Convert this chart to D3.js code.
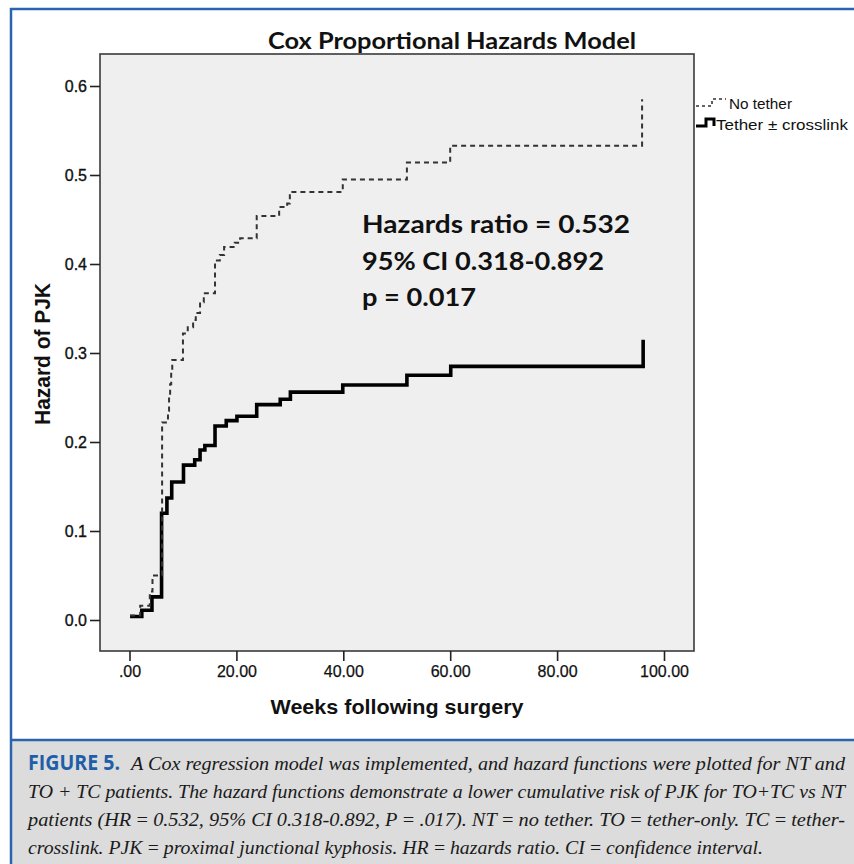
<!DOCTYPE html>
<html>
<head>
<meta charset="utf-8">
<script src="https://cdn.jsdelivr.net/npm/d3@7"></script>
<style>
  html, body { margin: 0; padding: 0; background: #ffffff; }
  svg { display: block; }
</style>
</head>
<body>
<svg id="chart" width="854" height="864"></svg>
<script>
// ---------------- DATA ----------------
const chartTitle = "Cox Proportional Hazards Model";
const xTicks = [0, 20, 40, 60, 80, 100];
const xTickLabels = [".00", "20.00", "40.00", "60.00", "80.00", "100.00"];
const yTicks = [0.0, 0.1, 0.2, 0.3, 0.4, 0.5, 0.6];
const yTickLabels = ["0.0", "0.1", "0.2", "0.3", "0.4", "0.5", "0.6"];
const seriesNames = ["No tether", "Tether \u00b1 crosslink"];

// No tether (dashed)
const weeksNoTether = [0.1, 2.0, 3.8, 4.3, 6.1, 7.2, 7.4, 7.6, 7.8, 8.0, 10.0, 10.9, 11.9, 12.4, 13.2, 13.9, 16.0, 16.9, 17.7, 19.7, 20.7, 23.8, 28.0, 29.5, 30.0, 39.9, 51.9, 60.0, 95.9];
const hazardNoTether = [0.005, 0.016, 0.032, 0.050, 0.222, 0.235, 0.250, 0.265, 0.278, 0.292, 0.322, 0.329, 0.337, 0.345, 0.357, 0.367, 0.404, 0.410, 0.419, 0.424, 0.429, 0.454, 0.464, 0.468, 0.481, 0.495, 0.514, 0.533, 0.585];

// Tether ± crosslink (solid)
const weeksTether = [0.1, 2.3, 4.2, 6.0, 7.0, 7.9, 10.1, 12.2, 13.2, 14.1, 16.0, 18.1, 20.1, 23.8, 28.2, 30.1, 39.9, 51.9, 60.1, 96.1];
const hazardTether = [0.004, 0.011, 0.026, 0.120, 0.137, 0.155, 0.174, 0.180, 0.191, 0.196, 0.218, 0.224, 0.229, 0.242, 0.248, 0.256, 0.264, 0.275, 0.285, 0.315];

const annotationLines = ["Hazards ratio = 0.532", "95% CI 0.318-0.892", "p = 0.017"];
const captionLabel = "FIGURE 5.";
const captionLines = [
  "A Cox regression model was implemented, and hazard functions were plotted for NT and",
  "TO + TC patients. The hazard functions demonstrate a lower cumulative risk of PJK for TO+TC vs NT",
  "patients (HR\u2009=\u20090.532, 95% CI 0.318-0.892, P\u2009=\u2009.017). NT\u2009=\u2009no tether. TO\u2009=\u2009tether-only. TC\u2009=\u2009tether-",
  "crosslink. PJK\u2009=\u2009proximal junctional kyphosis. HR\u2009=\u2009hazards ratio. CI\u2009=\u2009confidence interval."
];

// ---------------- LAYOUT ----------------
const svg = d3.select("#chart");
const panel = { left: 100, right: 694, top: 54, bottom: 651 };

const x = d3.scaleLinear().domain([0, 100]).range([129.5, 664]);
const y = d3.scaleLinear().domain([0, 0.6]).range([620, 86]);

// Blue frame
const blue = "#2b63ad";
svg.append("rect").attr("x", 12).attr("y", 741).attr("width", 842).attr("height", 123).attr("fill", "#dcdcdc");
svg.append("line").attr("x1", 11).attr("x2", 11).attr("y1", 8).attr("y2", 864).attr("stroke", blue).attr("stroke-width", 2.5);
svg.append("line").attr("x1", 10).attr("x2", 854).attr("y1", 9).attr("y2", 9).attr("stroke", blue).attr("stroke-width", 2.5);
svg.append("line").attr("x1", 11).attr("x2", 854).attr("y1", 740).attr("y2", 740).attr("stroke", blue).attr("stroke-width", 2.5);

// Title
svg.append("text")
  .attr("x", 452).attr("y", 49)
  .attr("text-anchor", "middle")
  .attr("font-family", "Lato, 'Open Sans', sans-serif")
  .attr("font-weight", "bold")
  .attr("font-size", 23)
  .attr("fill", "#111")
  .attr("textLength", 368).attr("lengthAdjust", "spacingAndGlyphs")
  .text(chartTitle);

// Panel
svg.append("rect")
  .attr("x", panel.left).attr("y", panel.top)
  .attr("width", panel.right - panel.left).attr("height", panel.bottom - panel.top)
  .attr("fill", "#efefef").attr("stroke", "#3a3a3a").attr("stroke-width", 1.6);

// Axes
const axisFont = "'Liberation Sans', Arial, sans-serif";
const yAxis = svg.append("g").attr("transform", `translate(${panel.left},0)`)
  .call(d3.axisLeft(y).tickValues(yTicks).tickSize(10).tickPadding(3)
    .tickFormat((d, i) => yTickLabels[i]));
yAxis.select(".domain").remove();
yAxis.selectAll(".tick line").attr("stroke", "#222").attr("stroke-width", 1.6);
yAxis.selectAll(".tick text").attr("font-family", axisFont).attr("font-size", 16).attr("fill", "#111")
  .attr("stroke", "#111").attr("stroke-width", 0.35).attr("dy", "0.34em");

const xAxis = svg.append("g").attr("transform", `translate(0,${panel.bottom})`)
  .call(d3.axisBottom(x).tickValues(xTicks).tickSize(10).tickPadding(5)
    .tickFormat((d, i) => xTickLabels[i]));
xAxis.select(".domain").remove();
xAxis.selectAll(".tick line").attr("stroke", "#222").attr("stroke-width", 1.6);
xAxis.selectAll(".tick text").attr("font-family", axisFont).attr("font-size", 16).attr("fill", "#111")
  .attr("stroke", "#111").attr("stroke-width", 0.25);

// Axis titles
svg.append("text")
  .attr("x", 397).attr("y", 714)
  .attr("text-anchor", "middle")
  .attr("font-family", axisFont).attr("font-weight", "bold").attr("font-size", 21)
  .attr("fill", "#111")
  .attr("textLength", 253).attr("lengthAdjust", "spacingAndGlyphs")
  .text("Weeks following surgery");

svg.append("text")
  .attr("transform", "translate(50,354) rotate(-90)")
  .attr("text-anchor", "middle")
  .attr("font-family", axisFont).attr("font-weight", "bold").attr("font-size", 21.5)
  .attr("fill", "#111")
  .attr("textLength", 142).attr("lengthAdjust", "spacingAndGlyphs")
  .text("Hazard of PJK");

// Curves
const line = d3.line().x(d => x(d[0])).y(d => y(d[1])).curve(d3.curveStepAfter);
const noTetherData = weeksNoTether.map((w, i) => [w, hazardNoTether[i]]);
const tetherData = weeksTether.map((w, i) => [w, hazardTether[i]]);

svg.append("path").datum(tetherData)
  .attr("d", line).attr("fill", "none")
  .attr("stroke", "#000").attr("stroke-width", 3.6).attr("stroke-linejoin", "miter");

svg.append("path").datum(noTetherData)
  .attr("d", line).attr("fill", "none")
  .attr("stroke", "#333").attr("stroke-width", 2).attr("stroke-dasharray", "5,4");

// Annotation
const annW = [268, 242, 114];
annotationLines.forEach((t, i) => {
  svg.append("text")
    .attr("x", 362).attr("y", 233 + i * 36.5)
    .attr("font-family", "Lato, 'Open Sans', sans-serif")
    .attr("font-weight", "bold").attr("font-size", 25)
    .attr("fill", "#111")
    .attr("textLength", annW[i]).attr("lengthAdjust", "spacingAndGlyphs")
    .text(t);
});

// Legend
const lg = svg.append("g");
lg.append("path")
  .attr("d", "M696,106 L712,106 L712,99 L726,99")
  .attr("fill", "none").attr("stroke", "#333").attr("stroke-width", 1.6).attr("stroke-dasharray", "3,3");
lg.append("path")
  .attr("d", "M696,126 L706,126 L706,119 L714,119 L714,126")
  .attr("fill", "none").attr("stroke", "#000").attr("stroke-width", 3);
lg.append("text").attr("x", 729).attr("y", 109)
  .attr("font-family", axisFont).attr("font-size", 14.5).attr("fill", "#111")
  .attr("textLength", 63).attr("lengthAdjust", "spacingAndGlyphs").text(seriesNames[0]);
lg.append("text").attr("x", 716).attr("y", 130)
  .attr("font-family", axisFont).attr("font-size", 14.5).attr("fill", "#111")
  .attr("textLength", 132).attr("lengthAdjust", "spacingAndGlyphs").text(seriesNames[1]);

// Caption
svg.append("text")
  .attr("x", 28).attr("y", 770)
  .attr("font-family", "'Liberation Sans Narrow', 'Open Sans', sans-serif")
  .attr("font-weight", "bold").attr("font-size", 21).attr("fill", "#1f5ea8")
  .attr("textLength", 92).attr("lengthAdjust", "spacingAndGlyphs")
  .text(captionLabel);
const capX = [131, 28, 28, 28];
const capW = [714, 817, 817, 735];
captionLines.forEach((t, i) => {
  svg.append("text")
    .attr("x", capX[i]).attr("y", 770 + i * 28)
    .attr("font-family", "'Liberation Serif', 'DejaVu Serif', serif")
    .attr("font-style", "italic").attr("font-size", 19).attr("fill", "#1a1a1a")
    .attr("textLength", capW[i]).attr("lengthAdjust", "spacingAndGlyphs")
    .text(t);
});
</script>
</body>
</html>
